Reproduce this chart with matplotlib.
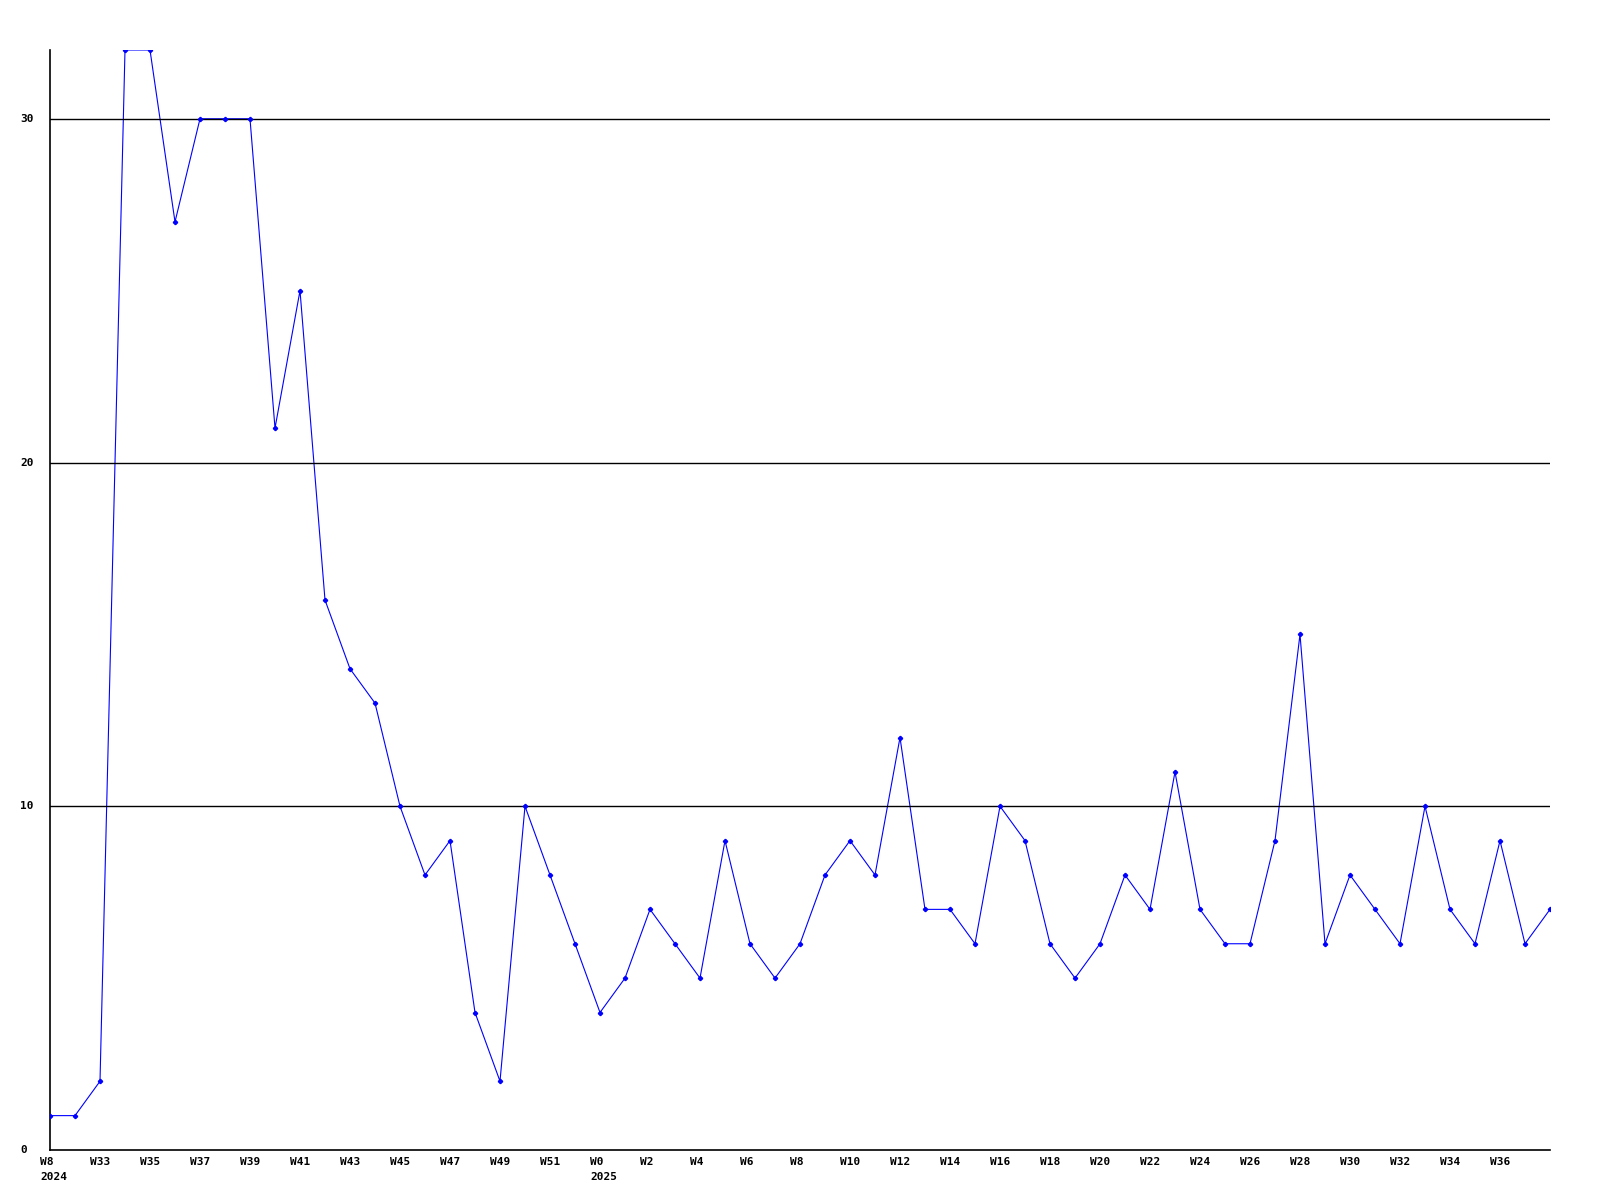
import matplotlib
matplotlib.use("Agg")
import matplotlib.pyplot as plt
import matplotlib.transforms as mtransforms

values = [1, 1, 2, 32, 32, 27, 30, 30, 30, 21, 25, 16, 14, 13, 10, 8, 9, 4, 2, 10,
          8, 6, 4, 5, 7, 6, 5, 9, 6, 5, 6, 8, 9, 8, 12, 7, 7, 6, 10, 9,
          6, 5, 6, 8, 7, 11, 7, 6, 6, 9, 15, 6, 8, 7, 6, 10, 7, 6, 9, 6, 7]
week_labels = ["W8", "W33", "W35", "W37", "W39", "W41", "W43", "W45", "W47", "W49",
               "W51", "W0", "W2", "W4", "W6", "W8", "W10", "W12", "W14", "W16",
               "W18", "W20", "W22", "W24", "W26", "W28", "W30", "W32", "W34", "W36"]
year_labels = {0: "2024", 11: "2025"}
y_ticks = [0, 10, 20, 30]

fig = plt.figure(figsize=(16, 12), dpi=100)
ax = fig.add_axes([50/1600, 50/1200, 1500/1600, 1100/1200])
x = list(range(len(values)))
ax.set_xlim(0, len(values) - 1)
ax.set_ylim(0, 32)

ax.plot(x, values, color="#0000ff", lw=0.8, zorder=2)
for yv in y_ticks[1:]:
    ax.axhline(yv, color="black", lw=1.0, zorder=2.5)
ax.plot(x, values, ls="none", marker="P", ms=2.8, color="#0000ff", mec="#0000ff", zorder=3)

for s in ["top", "right"]:
    ax.spines[s].set_visible(False)
for s in ["left", "bottom"]:
    ax.spines[s].set_color("black")
    ax.spines[s].set_linewidth(1.2)
ax.set_xticks([])
ax.set_yticks([])

font = dict(family="DejaVu Sans Mono", weight="bold", size=8)
ytrans = mtransforms.blended_transform_factory(fig.transFigure, ax.transData)
for yv in y_ticks:
    ax.text(20/1600, yv, str(yv), transform=ytrans, ha="left", va="center", **font)

for i, lab in enumerate(week_labels):
    xi = 2 * i
    tr = mtransforms.offset_copy(ax.transData, fig=fig, x=-10, y=-12, units="dots")
    ax.text(xi, 0, lab, transform=tr, ha="left", va="center", **font)
    if i in year_labels:
        tr2 = mtransforms.offset_copy(ax.transData, fig=fig, x=-10, y=-27, units="dots")
        ax.text(xi, 0, year_labels[i], transform=tr2, ha="left", va="center", **font)

fig.savefig("out.png", dpi=100)
